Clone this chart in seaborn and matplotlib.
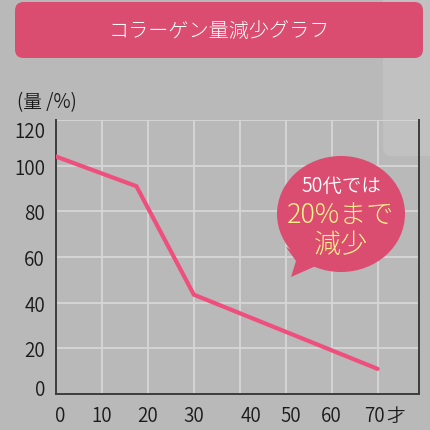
import matplotlib
matplotlib.use("Agg")
import matplotlib.pyplot as plt
import matplotlib.transforms as mtransforms
import seaborn as sns
import pandas as pd
from matplotlib.patches import FancyBboxPatch, Ellipse, Polygon

# ---- data ----
ages = [0, 17.5, 30, 70]
collagen = [104, 91, 43.5, 11]
x_ticks = [0, 10, 20, 30, 40, 50, 60, 70]
x_tick_labels = ["0", "10", "20", "30", "40", "50", "60", "70"]
y_ticks = [0, 20, 40, 60, 80, 100, 120]
y_tick_labels = ["0", "20", "40", "60", "80", "100", "120"]
title_text = "コラーゲン量減少グラフ"
y_unit = "(量 /%)"
x_unit = "才"
bubble_lines = ["50代では", "20%まで", "減少"]

sns.set_style("white")
plt.rcParams['font.family'] = ['Noto Sans CJK JP', 'DejaVu Sans']

BG = "#b9b9b9"
PINK = "#da4c70"
LINE = "#ef4f7c"
GRID = "#d6d6d6"
SPINE = "#3c3c3c"
TXT = "#1a1a1a"
TICK_W = 350

W, H = 430, 431
fig = plt.figure(figsize=(4.30, 4.31), dpi=100, facecolor=BG)

def fx(px):
    return px / W

def fy(py):
    return 1 - py / H

# light background panel (top right)
bgp = FancyBboxPatch((fx(383), fy(157)), fx(60), fy(0) - fy(157) + 0.05,
                     boxstyle="round,pad=0,rounding_size=0.02",
                     transform=fig.transFigure, facecolor="#c1c1c1",
                     edgecolor="none", zorder=-2)
fig.add_artist(bgp)

ax = fig.add_axes([fx(56), fy(395), fx(419) - fx(56), fy(121) - fy(395)])
ax.set_facecolor("none")

df = pd.DataFrame({"age": ages, "collagen": collagen})
sns.lineplot(data=df, x="age", y="collagen", ax=ax, color=LINE, linewidth=3.0,
             solid_capstyle="round", solid_joinstyle="miter", zorder=3)

ax.set_xlim(0, 79)
ax.set_ylim(0, 120)
ax.set_xticks(x_ticks)
ax.set_xticklabels(x_tick_labels, fontweight=TICK_W)
ax.set_yticks(y_ticks)
ax.set_yticklabels(y_tick_labels, fontweight=TICK_W)
ax.tick_params(axis="both", length=0, labelsize=13.5, colors=TXT)
ax.tick_params(axis="x", pad=8)
ax.tick_params(axis="y", pad=8)
ax.set_xlabel("")
ax.set_ylabel("")
ax.grid(True, color=GRID, linewidth=1.3)
ax.set_axisbelow(True)
for s in ["left", "bottom", "right"]:
    ax.spines[s].set_visible(True)
    ax.spines[s].set_color(SPINE)
    ax.spines[s].set_linewidth(1.4)
ax.spines["top"].set_visible(False)

# small label nudges (pixels) as in the original artwork
def nudge(lbl, dx, dy):
    lbl.set_transform(lbl.get_transform() +
                      mtransforms.ScaledTranslation(dx / 100, dy / 100, fig.dpi_scale_trans))

ylbls = ax.get_yticklabels()
nudge(ylbls[0], 0, 7)
nudge(ylbls[-1], 0, -9)
xlbls = ax.get_xticklabels()
nudge(xlbls[0], 4, 0)
nudge(xlbls[4], 11, 0)
nudge(xlbls[5], 5, 0)
nudge(xlbls[7], -3, 0)

# x unit after last tick label
ax.annotate(x_unit, xy=(x_ticks[-1], 0), xycoords=("data", "axes fraction"),
            xytext=(6, -8), textcoords="offset points", ha="left", va="top",
            fontsize=13.5, color=TXT, fontweight=TICK_W)

# y unit label
fig.text(fx(17), fy(103), y_unit, ha="left", va="center", fontsize=13.5,
         color=TXT, fontweight=TICK_W)

# title banner
banner = FancyBboxPatch((fx(15), fy(59)), fx(423) - fx(15), fy(3) - fy(59),
                        boxstyle="round,pad=0,rounding_size=0.02",
                        transform=fig.transFigure, facecolor=PINK,
                        edgecolor="none", zorder=2)
fig.add_artist(banner)
fig.text(fx(219), fy(31), title_text, ha="center", va="center", fontsize=14.5,
         color="white", zorder=3, fontweight="light")

# speech bubble
ell = Ellipse((fx(341), fy(215)), fx(128), fy(0) - fy(116),
              transform=fig.transFigure, facecolor=PINK, edgecolor="none", zorder=5)
fig.add_artist(ell)
tail = Polygon([(fx(286), fy(248)), (fx(296), fy(262)), (fx(291), fy(278)),
                (fx(318), fy(266))],
               closed=True, transform=fig.transFigure, facecolor=PINK,
               edgecolor="none", zorder=5)
fig.add_artist(tail)
fig.text(fx(341), fy(186), bubble_lines[0], ha="center", va="center", fontsize=14,
         color="white", zorder=6, fontweight=TICK_W)
fig.text(fx(341), fy(215), bubble_lines[1], ha="center", va="center", fontsize=19.5,
         color="#fff28a", zorder=6, fontweight="light")
fig.text(fx(341), fy(245), bubble_lines[2], ha="center", va="center", fontsize=19.5,
         color="#fff28a", zorder=6, fontweight="light")

fig.savefig("out.png", dpi=100, facecolor=BG)
